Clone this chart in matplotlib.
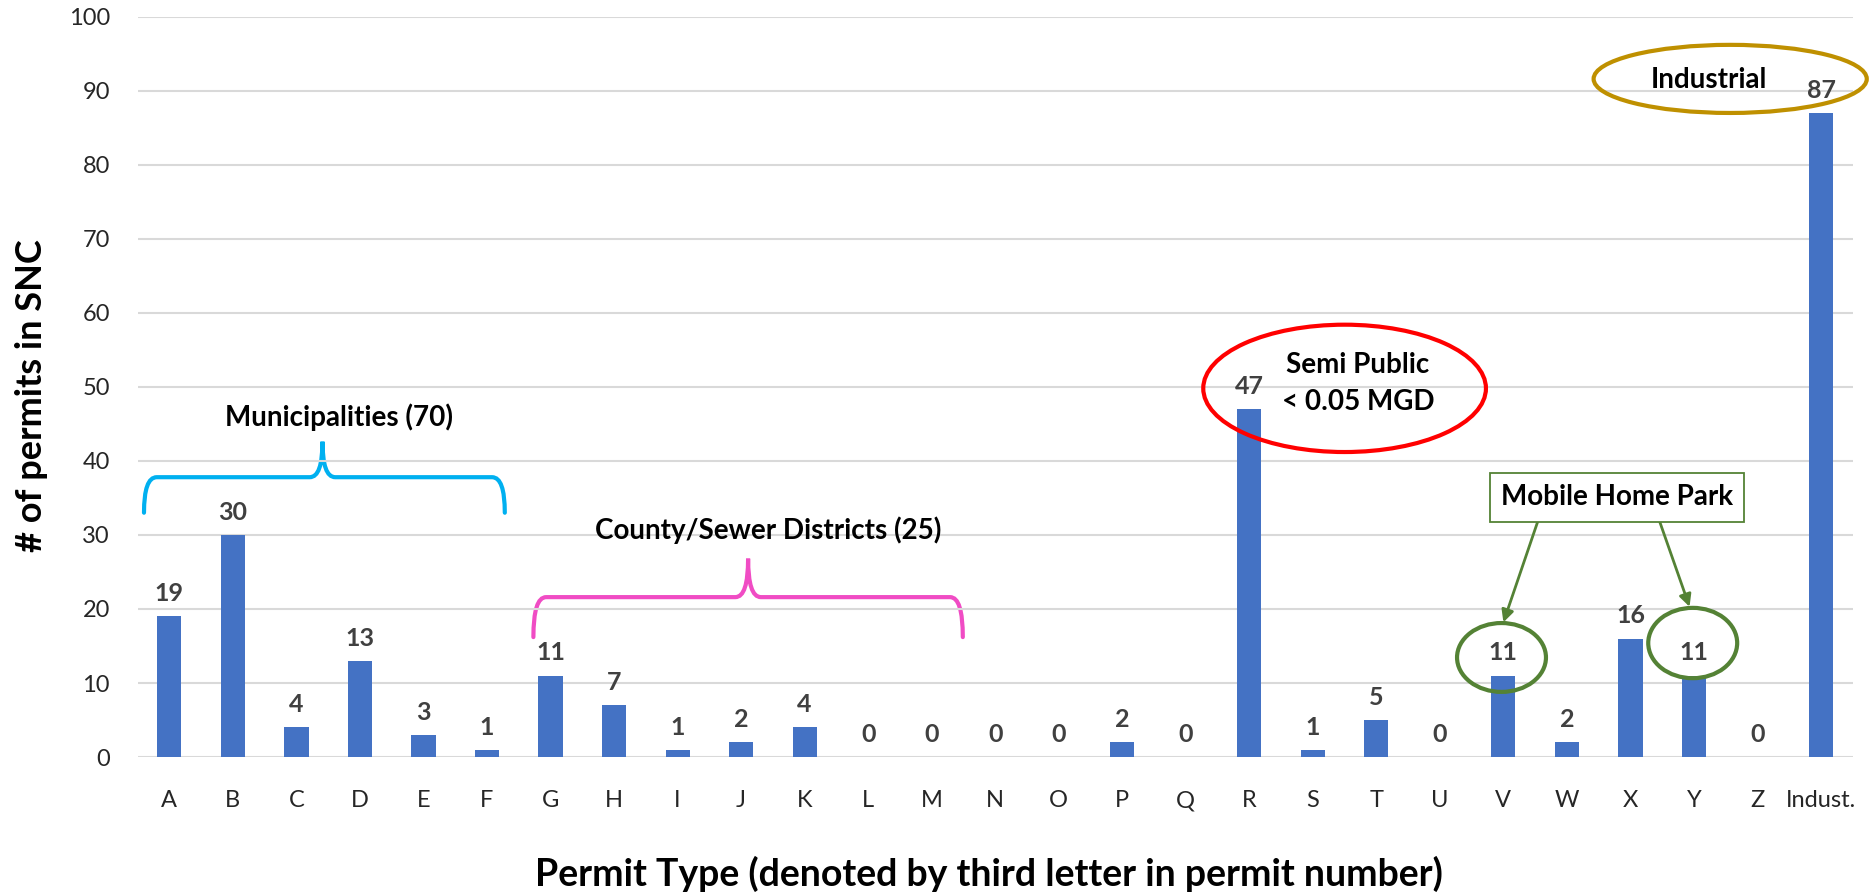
import numpy as np
import matplotlib.pyplot as plt
from matplotlib.patches import Ellipse, PathPatch
from matplotlib.path import Path

plt.rcParams['font.family'] = ['Lato', 'DejaVu Sans']

# Data
permit_types = ['A', 'B', 'C', 'D', 'E', 'F', 'G', 'H', 'I', 'J', 'K', 'L', 'M',
                'N', 'O', 'P', 'Q', 'R', 'S', 'T', 'U', 'V', 'W', 'X', 'Y', 'Z', 'Indust.']
permit_counts = [19, 30, 4, 13, 3, 1, 11, 7, 1, 2, 4, 0, 0,
                 0, 0, 2, 0, 47, 1, 5, 0, 11, 2, 16, 11, 0, 87]
y_ticks = [0, 10, 20, 30, 40, 50, 60, 70, 80, 90, 100]

BAR = '#4472C4'
LABEL = '#404040'
GREEN = '#548235'


def brace(ax, x0, x1, xc, y_end, y_bar, y_peak, color, r=0.2):
    # curly brace opening downwards, drawn with quadratic curves
    verts = [(x0, y_end), (x0, y_bar), (x0 + r, y_bar),
             (xc - r, y_bar),
             (xc, y_bar), (xc, y_peak),
             (xc, y_bar), (xc + r, y_bar),
             (x1 - r, y_bar),
             (x1, y_bar), (x1, y_end)]
    codes = [Path.MOVETO, Path.CURVE3, Path.CURVE3,
             Path.LINETO,
             Path.CURVE3, Path.CURVE3,
             Path.CURVE3, Path.CURVE3,
             Path.LINETO,
             Path.CURVE3, Path.CURVE3]
    ax.add_patch(PathPatch(Path(verts, codes), fill=False, edgecolor=color,
                           lw=3, clip_on=False, capstyle='round'))


fig = plt.figure(figsize=(18.7, 8.94), dpi=100)
ax = fig.add_axes([0.0736, 0.1532, 0.9172, 0.8281])

x = np.arange(len(permit_types))
ax.bar(x, permit_counts, width=0.38, color=BAR, zorder=3)

for xi, v in zip(x, permit_counts):
    ax.annotate(str(v), (xi, v), xytext=(0, 8), textcoords='offset points',
                ha='center', va='bottom', fontsize=18, fontweight='bold',
                color=LABEL, zorder=4)

ax.set_xlim(-0.5, len(permit_types) - 0.5)
ax.set_ylim(0, 100)
ax.set_yticks(y_ticks)
ax.set_xticks(x)
ax.set_xticklabels(permit_types)
ax.tick_params(axis='both', length=0, labelsize=17, labelcolor='#262626')
ax.tick_params(axis='x', pad=24)
ax.tick_params(axis='y', pad=20)
ax.grid(axis='y', color='#D9D9D9', lw=1.5, zorder=0)
for s in ax.spines.values():
    s.set_visible(False)

fig.text(0.0171, 0.557, '# of permits in SNC', rotation=90, ha='center',
         va='center', fontsize=26, fontweight='bold')
fig.text(0.529, 0.0224, 'Permit Type (denoted by third letter in permit number)',
         ha='center', va='center', fontsize=27, fontweight='bold')

ANN = 20

# Municipalities brace
brace(ax, -0.40, 5.28, 2.41, 33.0, 37.8, 42.6, '#00B0F0')
ax.text(2.67, 45.9, 'Municipalities (70)', ha='center', va='center',
        fontsize=ANN, fontweight='bold')

# County / Sewer districts brace
brace(ax, 5.73, 12.49, 9.11, 16.2, 21.6, 26.8, '#F04CC4')
ax.text(9.42, 30.7, 'County/Sewer Districts (25)', ha='center', va='center',
        fontsize=ANN, fontweight='bold')

# Semi public ellipse
ax.add_patch(Ellipse((18.5, 49.8), 4.45, 17.2, fill=False, edgecolor='#FF0000',
                     lw=3, clip_on=False, zorder=5))
ax.text(18.71, 53.0, 'Semi Public', ha='center', va='center', fontsize=ANN,
        fontweight='bold')
ax.text(18.71, 48.0, '< 0.05 MGD', ha='center', va='center', fontsize=ANN,
        fontweight='bold')

# Industrial ellipse
ax.add_patch(Ellipse((24.57, 91.6), 4.3, 9.2, fill=False, edgecolor='#BF9000',
                     lw=3, clip_on=False, zorder=5))
ax.text(24.24, 91.5, 'Industrial', ha='center', va='center', fontsize=ANN,
        fontweight='bold')

# Mobile home park
ax.add_patch(Ellipse((20.97, 13.45), 1.40, 9.3, fill=False, edgecolor=GREEN,
                     lw=3, zorder=5))
ax.add_patch(Ellipse((23.98, 15.4), 1.40, 9.5, fill=False, edgecolor=GREEN,
                     lw=3, zorder=5))
ax.text(22.79, 35.07, 'Mobile Home Park', ha='center', va='center', fontsize=ANN,
        fontweight='bold', zorder=6,
        bbox=dict(boxstyle='square,pad=0.4', fc='white', ec=GREEN, lw=1.3))
arrow = dict(arrowstyle='-|>', color=GREEN, lw=2, mutation_scale=18,
             shrinkA=0, shrinkB=0)
ax.annotate('', xy=(21.0, 18.2), xytext=(21.54, 31.8), arrowprops=arrow)
ax.annotate('', xy=(23.93, 20.3), xytext=(23.46, 31.8), arrowprops=arrow)

fig.savefig('out.png', dpi=100)
